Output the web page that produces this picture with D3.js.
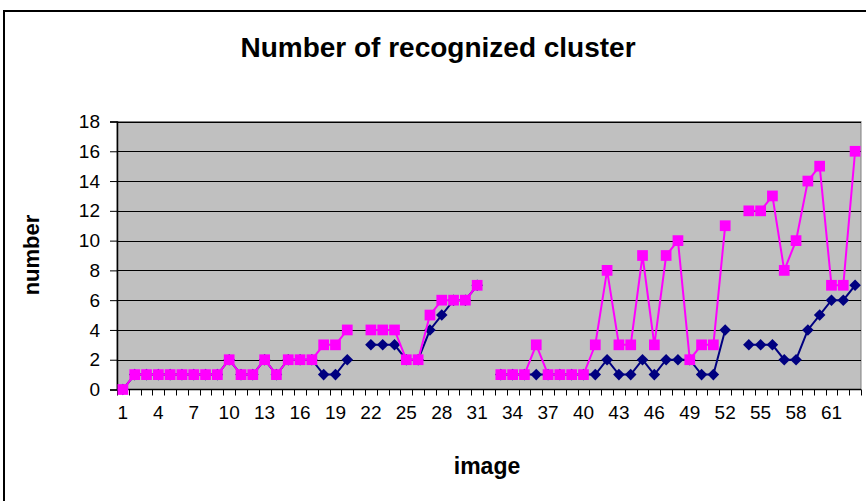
<!DOCTYPE html>
<html>
<head>
<meta charset="utf-8">
<script src="https://cdn.jsdelivr.net/npm/d3@7"></script>
<style>
  body { margin: 0; background: #fff; }
  text { font-family: "Liberation Sans", Arial, sans-serif; fill: #000; }
</style>
</head>
<body>
<svg id="chart" width="866" height="501"></svg>
<script>
// categories 1..63 (image index)
const images = d3.range(1, 64)
// null = no value for that image
const recognized = [0, 1, 1, 1, 1, 1, 1, 1, 1, 2, 1, 1, 2, 1, 2, 2, 2, 1, 1, 2,
  null, 3, 3, 3, 2, 2, 4, 5, 6, 6, 7, null, 1, 1, 1, 1, 1, 1, 1, 1,
  1, 2, 1, 1, 2, 1, 2, 2, 2, 1, 1, 4, null, 3, 3, 3, 2, 2, 4, 5,
  6, 6, 7]
const found = [0, 1, 1, 1, 1, 1, 1, 1, 1, 2, 1, 1, 2, 1, 2, 2, 2, 3, 3, 4,
  null, 4, 4, 4, 2, 2, 5, 6, 6, 6, 7, null, 1, 1, 1, 3, 1, 1, 1, 1,
  3, 8, 3, 3, 9, 3, 9, 10, 2, 3, 3, 11, null, 12, 12, 13, 8, 10, 14, 15,
  7, 7, 16]
const yTicks = d3.range(0, 19, 2)
const xLabels = images.filter((d) => (d - 1) % 3 === 0)

const svg = d3.select('#chart')
const plot = { left: 117, right: 861, top: 121.5, bottom: 389.5 }

const x = d3.scaleBand()
  .domain(images)
  .range([plot.left, plot.right])
  .padding(0)
const y = d3.scaleLinear()
  .domain([0, 18])
  .range([plot.bottom, plot.top])
const cx = (d) => x(d) + x.bandwidth() / 2

// outer chart border
svg.append('rect')
  .attr('x', 4).attr('y', 11)
  .attr('width', 880).attr('height', 500)
  .attr('fill', 'none').attr('stroke', '#000').attr('stroke-width', 2)

// plot area
svg.append('rect')
  .attr('x', plot.left).attr('y', plot.top)
  .attr('width', plot.right - plot.left).attr('height', plot.bottom - plot.top)
  .attr('fill', '#c0c0c0').attr('stroke', '#808080').attr('stroke-width', 1)

// gridlines
svg.append('g')
  .selectAll('line')
  .data(yTicks.filter((d) => d > 0))
  .join('line')
    .attr('x1', plot.left).attr('x2', plot.right)
    .attr('y1', (d) => Math.round(y(d)) + 0.5).attr('y2', (d) => Math.round(y(d)) + 0.5)
    .attr('stroke', '#000')

// y axis
const yAxis = svg.append('g')
  .attr('transform', `translate(${plot.left},0)`)
  .call(d3.axisLeft(y).tickValues(yTicks).tickSize(7).tickPadding(10))
yAxis.select('.domain').attr('stroke', '#000').attr('stroke-width', 1.5)
yAxis.selectAll('text').style('font-size', '19px').attr('font-family', null)

// x axis: tick marks at category boundaries
const bounds = images.map((d) => x(d)).concat([plot.right])
svg.append('line')
  .attr('x1', plot.left).attr('x2', plot.right)
  .attr('y1', plot.bottom).attr('y2', plot.bottom)
  .attr('stroke', '#000').attr('stroke-width', 1.5)
svg.append('g')
  .selectAll('line')
  .data(bounds)
  .join('line')
    .attr('x1', (d) => Math.round(d) + 0.5).attr('x2', (d) => Math.round(d) + 0.5)
    .attr('y1', plot.bottom).attr('y2', plot.bottom + 6)
    .attr('stroke', '#000')
svg.append('g')
  .selectAll('text')
  .data(xLabels)
  .join('text')
    .attr('x', cx)
    .attr('y', 419)
    .attr('text-anchor', 'middle')
    .style('font-size', '19px')
    .text((d) => d)

// series
const line = d3.line()
  .defined((d) => d.v !== null)
  .x((d) => cx(d.i))
  .y((d) => y(d.v))

function drawSeries (values, color, marker, size) {
  const pts = images.map((i, k) => ({ i: i, v: values[k] }))
  svg.append('path')
    .datum(pts)
    .attr('d', line)
    .attr('fill', 'none')
    .attr('stroke', color)
    .attr('stroke-width', 2)
  svg.append('g')
    .selectAll('path')
    .data(pts.filter((d) => d.v !== null))
    .join('path')
      .attr('transform', (d) => `translate(${cx(d.i)},${y(d.v)})`)
      .attr('d', d3.symbol().type(marker).size(size))
      .attr('fill', color)
}
drawSeries(recognized, '#000080', d3.symbolDiamond2, 85)
drawSeries(found, '#ff00ff', d3.symbolSquare, 115)

// titles
svg.append('text')
  .attr('x', 438).attr('y', 57)
  .attr('text-anchor', 'middle')
  .style('font-size', '28px').style('font-weight', 'bold')
  .text('Number of recognized cluster')
svg.append('text')
  .attr('x', 487).attr('y', 474)
  .attr('text-anchor', 'middle')
  .style('font-size', '23px').style('font-weight', 'bold')
  .text('image')
svg.append('text')
  .attr('transform', 'translate(39,255) rotate(-90)')
  .attr('text-anchor', 'middle')
  .style('font-size', '22px').style('font-weight', 'bold')
  .text('number')
</script>
</body>
</html>
